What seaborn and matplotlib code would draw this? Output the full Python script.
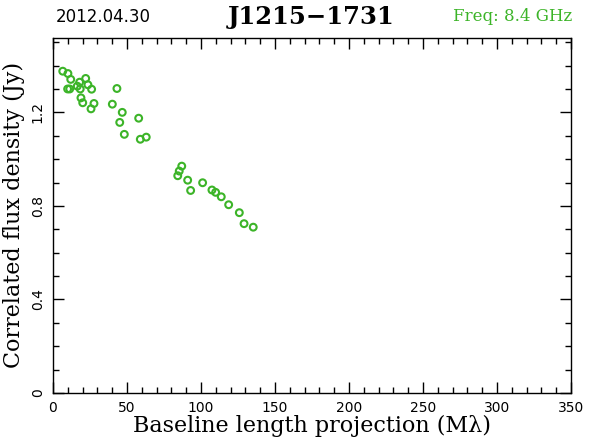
import numpy as np
import pandas as pd
import matplotlib
matplotlib.use("Agg")
import matplotlib.pyplot as plt
import seaborn as sns
from matplotlib.ticker import MultipleLocator

# baseline projection (Mlambda) and correlated flux (Jy)
baseline = [6.6, 10.1, 12.0, 9.9, 11.3, 22.1, 18.0, 16.4, 18.4, 23.6, 26.1, 43.2,
            18.9, 20.1, 27.7, 25.7, 40.1, 46.8, 57.9, 45.1, 48.2, 59.0, 63.0,
            87.0, 85.3, 84.3, 91.0, 93.0, 101.1, 107.4, 109.9, 113.7, 118.7,
            125.9, 129.1, 135.3]
flux = [1.376, 1.366, 1.341, 1.300, 1.300, 1.345, 1.329, 1.312, 1.300, 1.318, 1.299, 1.302,
        1.262, 1.241, 1.238, 1.215, 1.235, 1.200, 1.175, 1.157, 1.106, 1.085, 1.094,
        0.970, 0.949, 0.929, 0.910, 0.866, 0.899, 0.868, 0.858, 0.839, 0.805,
        0.771, 0.724, 0.709]

source = "J1215\u22121731"
obs_date = "2012.04.30"
freq_label = "Freq: 8.4 GHz"

df = pd.DataFrame({"uv": baseline, "flux": flux})

sns.set_style("ticks")
plt.rcParams['font.family'] = ['DejaVu Serif']
plt.rcParams.update({"text.color": "black", "axes.labelcolor": "black",
                     "xtick.color": "black", "ytick.color": "black"})

green = "#3cb428"

fig = plt.figure(figsize=(5.9, 4.43), dpi=100)
ax = fig.add_axes([0.0898, 0.1129, 0.8780, 0.8024])

sns.scatterplot(data=df, x="uv", y="flux", ax=ax, marker="o", s=24,
                facecolor="none", edgecolor=green, linewidth=1.5, legend=False)

ax.set_xlim(0, 350)
ax.set_ylim(0, 1.52)
ax.xaxis.set_major_locator(MultipleLocator(50))
ax.xaxis.set_minor_locator(MultipleLocator(10))
ax.yaxis.set_major_locator(MultipleLocator(0.4))
ax.yaxis.set_minor_locator(MultipleLocator(0.1))
ax.yaxis.set_major_formatter(plt.FuncFormatter(lambda v, p: "0" if v == 0 else f"{v:.1f}"))

ax.tick_params(which="both", direction="in", top=True, right=True, color="black", width=1)
ax.tick_params(which="major", length=8, labelsize=10, pad=6)
ax.tick_params(which="minor", length=4)
for lab in ax.get_xticklabels() + ax.get_yticklabels():
    lab.set_family("DejaVu Sans")
for lab in ax.get_yticklabels():
    lab.set_rotation(90)
    lab.set_va("center")

for sp in ax.spines.values():
    sp.set_linewidth(1.0)
    sp.set_color("black")

ax.set_xlabel("Baseline length projection (M\u03bb)", fontsize=16, labelpad=0)
ax.set_ylabel("Correlated flux density (Jy)", fontsize=16, labelpad=4)

fig.text(0.175, 0.962, obs_date, fontsize=12, ha="center", va="center", family=["DejaVu Sans"])
fig.text(0.528, 0.962, source, fontsize=17.5, fontweight="bold", ha="center", va="center")
fig.text(0.97, 0.962, freq_label, fontsize=12, ha="right", va="center", color=green)

fig.savefig("out.png", dpi=100)
